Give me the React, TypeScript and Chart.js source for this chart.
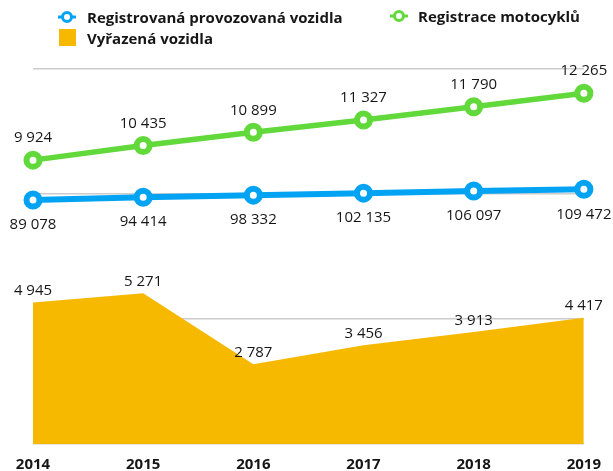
import React, { useEffect, useRef } from 'react';
import { Chart, registerables } from 'chart.js';

Chart.register(...registerables);

const years = ['2014', '2015', '2016', '2017', '2018', '2019'];
const registeredVehicles = [89078, 94414, 98332, 102135, 106097, 109472];
const motorcycleRegistrations = [9924, 10435, 10899, 11327, 11790, 12265];
const deregisteredVehicles = [4945, 5271, 2787, 3456, 3913, 4417];
const seriesNames = ['Registrovaná provozovaná vozidla', 'Registrace motocyklů', 'Vyřazená vozidla'];

const BLUE = '#03A3F4';
const GREEN = '#62D93B';
const YELLOW = '#F6B900';
const TEXT = '#161616';
const FONT = '"Open Sans", "Noto Sans", sans-serif';

const fmt = (n: number) => String(n).replace(/\B(?=(\d{3})+(?!\d))/g, ' ');

const valueLabels = {
  id: 'valueLabels',
  afterDatasetsDraw(chart: any) {
    const ctx = chart.ctx;
    ctx.save();
    ctx.font = `500 15px ${FONT}`;
    ctx.fillStyle = TEXT;
    ctx.textAlign = 'center';
    ctx.textBaseline = 'middle';
    chart.data.datasets.forEach((ds: any, i: number) => {
      const meta = chart.getDatasetMeta(i);
      meta.data.forEach((pt: any, j: number) => {
        const off = ds.labelOffset as number;
        ctx.fillText(fmt(ds.data[j] as number), pt.x, pt.y + off);
      });
    });
    ctx.restore();
  },
};

export default function App() {
  const ref = useRef<HTMLCanvasElement | null>(null);

  useEffect(() => {
    if (!ref.current) return;
    const chart = new Chart(ref.current, {
      type: 'line',
      data: {
        labels: years,
        datasets: [
          {
            label: seriesNames[0],
            data: registeredVehicles,
            yAxisID: 'y1',
            borderColor: BLUE,
            backgroundColor: '#ffffff',
            borderWidth: 6,
            pointRadius: 6.5,
            pointBorderWidth: 6,
            pointBorderColor: BLUE,
            pointBackgroundColor: '#ffffff',
            tension: 0,
            fill: false,
            clip: false,
            labelOffset: 25,
          } as any,
          {
            label: seriesNames[1],
            data: motorcycleRegistrations,
            yAxisID: 'y',
            borderColor: GREEN,
            backgroundColor: '#ffffff',
            borderWidth: 5.5,
            pointRadius: 6.5,
            pointBorderWidth: 6,
            pointBorderColor: GREEN,
            pointBackgroundColor: '#ffffff',
            tension: 0,
            fill: false,
            clip: false,
            labelOffset: -22,
          } as any,
          {
            label: seriesNames[2],
            data: deregisteredVehicles,
            yAxisID: 'y',
            borderColor: YELLOW,
            backgroundColor: YELLOW,
            borderWidth: 0,
            pointRadius: 0,
            tension: 0,
            fill: 'origin',
            clip: false,
            labelOffset: -11.5,
          } as any,
        ],
      },
      options: {
        animation: false,
        responsive: false,
        maintainAspectRatio: false,
        layout: { padding: { left: 33, right: 29, top: 69, bottom: 0 } },
        plugins: { legend: { display: false }, tooltip: { enabled: false } },
        scales: {
          x: {
            type: 'category',
            offset: false,
            grid: { display: false, drawTicks: false },
            border: { display: false },
            ticks: {
              color: TEXT,
              font: { family: FONT, size: 15, weight: 'bold' },
              padding: 12,
              maxRotation: 0,
              autoSkip: false,
            },
            afterFit: (scale: any) => {
              scale.height = 27;
            },
          },
          y: {
            min: 0,
            max: 13110,
            ticks: { display: false, stepSize: 4370 },
            grid: { color: '#cccccc', lineWidth: 1.5, drawTicks: false },
            border: { display: false },
          },
          y1: {
            display: false,
            min: -375950,
            max: 338744,
          },
        },
      },
      plugins: [valueLabels],
    });
    return () => chart.destroy();
  }, []);

  const legendText: React.CSSProperties = {
    position: 'absolute',
    font: `700 15px ${FONT}`,
    color: TEXT,
    whiteSpace: 'nowrap',
    lineHeight: '20px',
  };

  const ringIcon = (color: string) => (
    <svg width="20" height="14" viewBox="0 0 20 14">
      <line x1="1" y1="7" x2="19" y2="7" stroke={color} strokeWidth="3" />
      <circle cx="10" cy="7" r="4.5" fill="#ffffff" stroke={color} strokeWidth="3" />
    </svg>
  );

  return (
    <div style={{ position: 'absolute', left: 0, top: 0, width: 613, height: 471, background: '#ffffff' }}>
      <canvas ref={ref} width={613} height={471} style={{ position: 'absolute', left: 0, top: 0 }} />
      <div style={{ position: 'absolute', left: 57, top: 10, width: 20, height: 14 }}>{ringIcon(BLUE)}</div>
      <div style={{ ...legendText, left: 87, top: 7 }}>{seriesNames[0]}</div>
      <div style={{ position: 'absolute', left: 389, top: 9, width: 20, height: 14 }}>{ringIcon(GREEN)}</div>
      <div style={{ ...legendText, left: 418, top: 6 }}>{seriesNames[1]}</div>
      <div style={{ position: 'absolute', left: 59, top: 29, width: 17, height: 17, background: YELLOW }} />
      <div style={{ ...legendText, left: 87, top: 28 }}>{seriesNames[2]}</div>
    </div>
  );
}
